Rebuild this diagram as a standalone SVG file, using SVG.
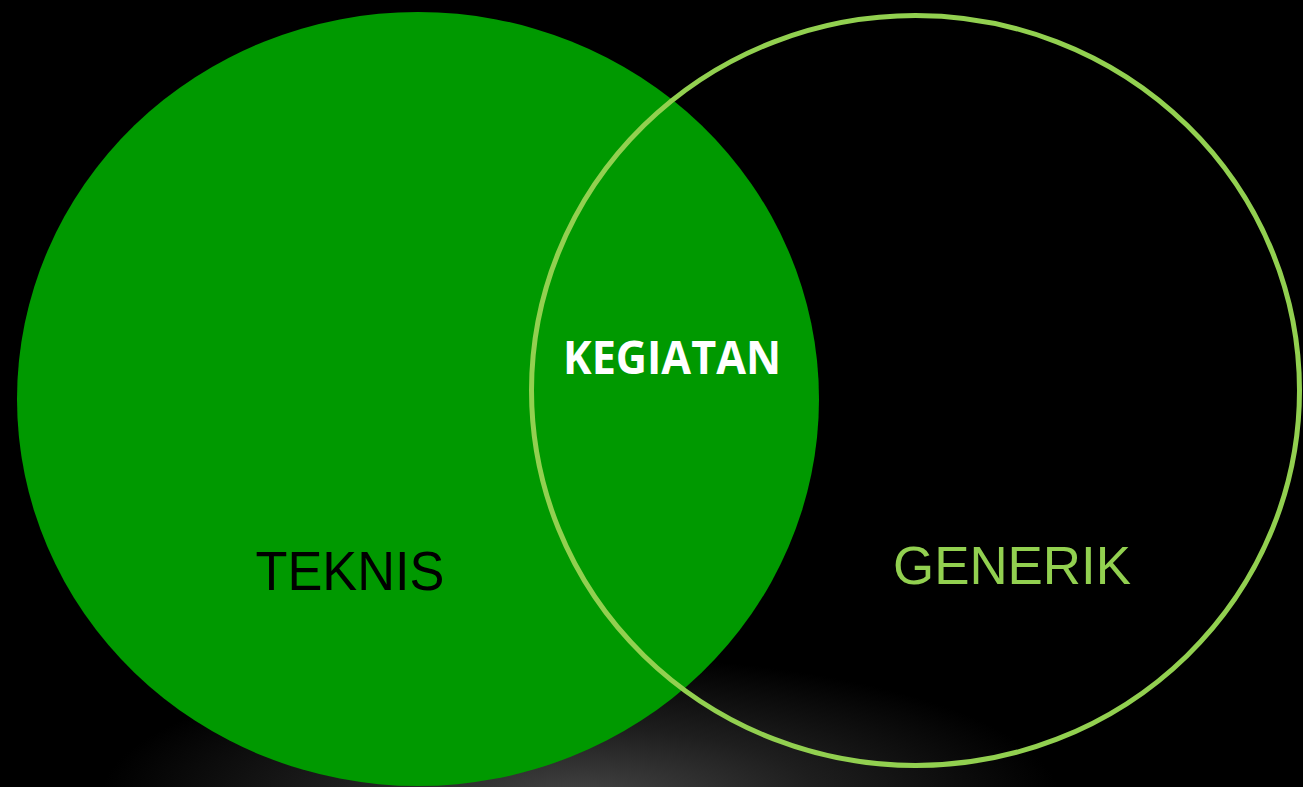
<svg xmlns="http://www.w3.org/2000/svg" width="1303" height="787" viewBox="0 0 1303 787">
<defs>
<radialGradient id="glow" gradientUnits="userSpaceOnUse" cx="580" cy="800" r="480" gradientTransform="translate(580 800) scale(1 0.3) translate(-580 -800)">
<stop offset="0" stop-color="#454545"/>
<stop offset="0.5" stop-color="#1e1e1e"/>
<stop offset="1" stop-color="#000000"/>
</radialGradient>
<style>
.lbl{font-family:"Liberation Sans",Arial,sans-serif;}
</style>
</defs>
<rect width="1303" height="787" fill="#000"/>
<rect width="1303" height="787" fill="url(#glow)"/>
<g id="teknis">
<ellipse cx="418" cy="399" rx="401" ry="387" fill="#009900"/>
<text class="lbl" x="350" y="590" font-size="55" text-anchor="middle" fill="#000" textLength="189" lengthAdjust="spacingAndGlyphs">TEKNIS</text>
</g>
<g id="generik">
<ellipse cx="915.5" cy="390.5" rx="384" ry="375" fill="none" stroke="#92d050" stroke-width="5"/>
<text class="lbl" x="1012" y="584" font-size="54" text-anchor="middle" fill="#92d050" textLength="238" lengthAdjust="spacingAndGlyphs">GENERIK</text>
</g>
<g id="kegiatan">
<text x="672" y="374" font-family="'Open Sans','Liberation Sans',sans-serif" font-weight="bold" font-size="47" text-anchor="middle" fill="#fff" textLength="218" lengthAdjust="spacingAndGlyphs">KEGIATAN</text>
</g>
<g id="connectors"/>
</svg>
